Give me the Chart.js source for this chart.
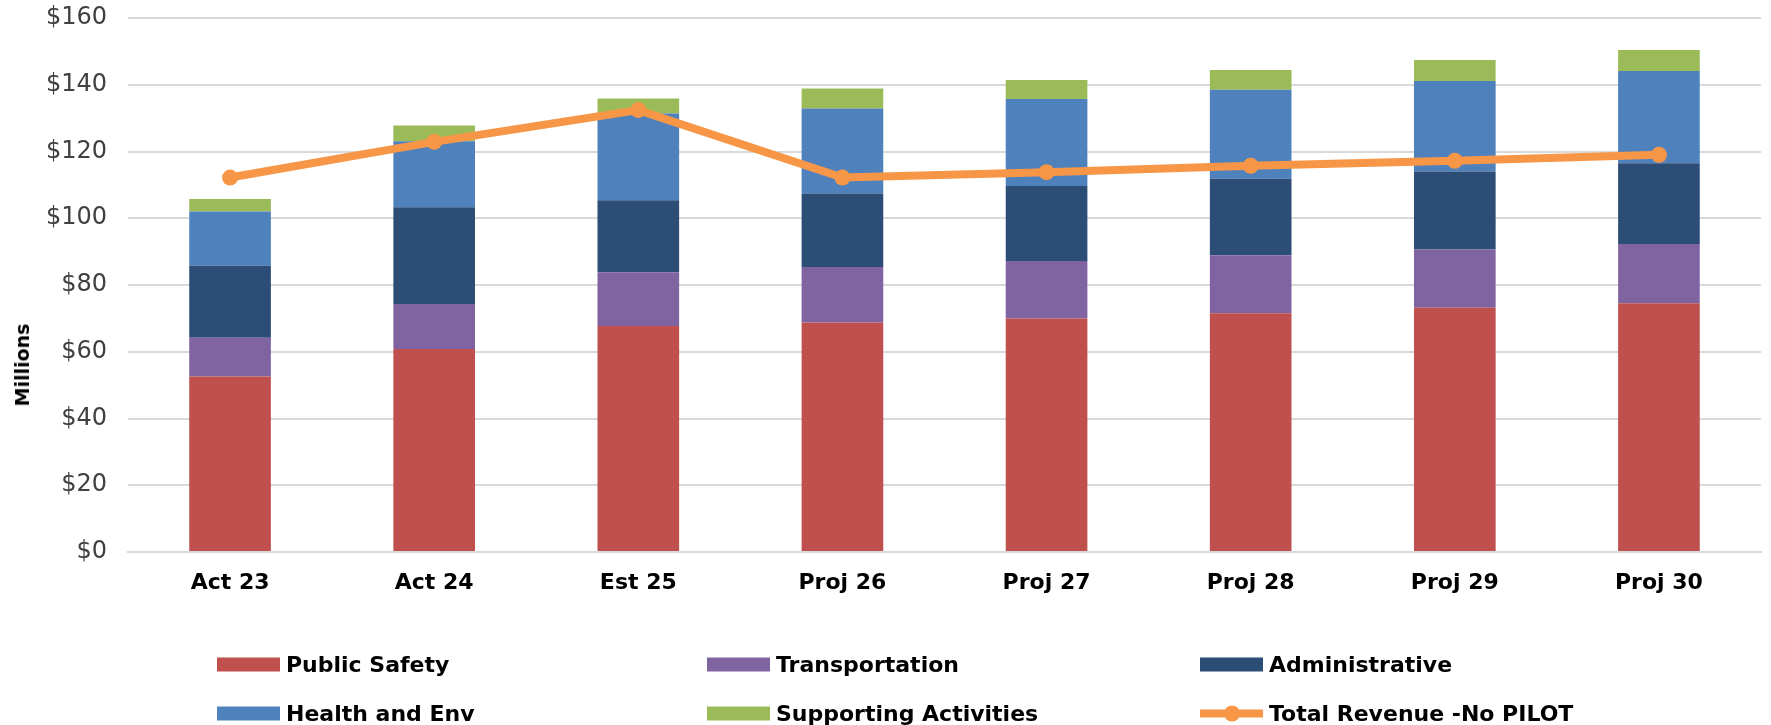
<!DOCTYPE html>
<html>
<head>
<meta charset="utf-8">
<script src="https://cdn.jsdelivr.net/npm/chart.js@4/dist/chart.umd.min.js"></script>
<style>
  html, body { margin: 0; padding: 0; background: #ffffff; }
  #wrap { position: relative; width: 1771px; height: 725px; overflow: hidden; }
  #chart { position: absolute; left: 0; top: 0; }
  #ytitle {
    position: absolute; left: 22px; top: 365px;
    transform: translate(-50%, -50%) rotate(-90deg);
    font: bold 19px "DejaVu Sans", sans-serif; color: #000; white-space: nowrap;
  }
  .leg { position: absolute; display: flex; align-items: center; font: bold 22px "DejaVu Sans", sans-serif; color: #000; white-space: nowrap; transform: translateY(-50%); }
  .sw { width: 63px; height: 14px; margin-right: 6px; position: relative; }
  .sw.line { height: 14px; }
  .sw.line .ln { position: absolute; left: 0; right: 0; top: 3px; height: 8px; }
  .sw.line .pt { position: absolute; left: 24px; top: -1px; width: 16px; height: 16px; border-radius: 50%; }
</style>
</head>
<body>
<div id="wrap">
  <canvas id="chart" width="1771" height="725"></canvas>
  <div id="ytitle">Millions</div>
</div>
<script>
const categories = ['Act 23', 'Act 24', 'Est 25', 'Proj 26', 'Proj 27', 'Proj 28', 'Proj 29', 'Proj 30'];
const publicSafety   = [52.6, 60.8, 67.7, 68.8, 70.0, 71.5, 73.2, 74.5];
const transportation = [11.6, 13.5, 16.1, 16.6, 17.2, 17.4, 17.4, 17.8];
const administrative = [21.6, 29.0, 21.6, 22.0, 22.5, 22.9, 23.4, 24.2];
const healthEnv      = [16.2, 19.8, 26.0, 25.5, 26.0, 26.7, 27.1, 27.6];
const supporting     = [3.8, 4.7, 4.5, 6.0, 5.7, 5.9, 6.3, 6.3];
const totalRevenue   = [112.2, 122.9, 132.4, 112.2, 113.8, 115.7, 117.2, 119.0];
const yMin = 0, yMax = 160, yStep = 20;

const barSet = (label, data, color) => ({
  type: 'bar', label, data, backgroundColor: color, borderWidth: 0,
  stack: 'spend', order: 1, categoryPercentage: 0.8, barPercentage: 0.5
});

const datasets = [
  barSet('Public Safety', publicSafety, '#C0504D'),
  barSet('Transportation', transportation, '#8064A2'),
  barSet('Administrative', administrative, '#2C4D75'),
  barSet('Health and Env', healthEnv, '#4F81BD'),
  barSet('Supporting Activities', supporting, '#9BBB59'),
  {
    type: 'line', label: 'Total Revenue -No PILOT', data: totalRevenue,
    borderColor: '#F79646', backgroundColor: '#F79646', borderWidth: 8,
    pointRadius: 8, pointHoverRadius: 8, pointBorderWidth: 0,
    stack: 'rev', order: 0, tension: 0
  }
];

const chart = new Chart(document.getElementById('chart'), {
  data: { labels: categories, datasets },
  options: {
    responsive: false,
    animation: false,
    layout: { padding: { left: 0, right: 10, top: 18, bottom: 123 } },
    plugins: { legend: { display: false }, tooltip: { enabled: false } },
    scales: {
      x: {
        stacked: true,
        grid: { display: false, drawTicks: false },
        border: { display: true, color: '#D9D9D9', width: 2 },
        ticks: { padding: 18, color: '#000', font: { family: 'DejaVu Sans', size: 22, weight: 'bold' } },
        afterFit: (s) => { s.height = 50; s.paddingLeft = 0; s.paddingRight = 0; }
      },
      y: {
        stacked: true,
        min: yMin, max: yMax,
        grid: { color: '#D9D9D9', lineWidth: 2, drawTicks: false },
        border: { display: false },
        ticks: {
          stepSize: yStep, padding: 21, color: '#404040',
          font: { family: 'DejaVu Sans', size: 24 },
          callback: (v) => '$' + v
        },
        afterFit: (s) => { s.width = 128; s.paddingTop = 0; s.paddingBottom = 0; }
      }
    }
  }
});

// HTML legend built from the chart's datasets
const legPos = [
  [217, 664], [707, 664], [1200, 664],
  [217, 713], [707, 713], [1200, 713]
];
const wrap = document.getElementById('wrap');
chart.data.datasets.forEach((ds, i) => {
  const el = document.createElement('div');
  el.className = 'leg';
  el.style.left = legPos[i][0] + 'px';
  el.style.top = legPos[i][1] + 'px';
  const sw = document.createElement('div');
  if (ds.type === 'line') {
    sw.className = 'sw line';
    sw.innerHTML = '<div class="ln" style="background:' + ds.borderColor + '"></div><div class="pt" style="background:' + ds.backgroundColor + '"></div>';
  } else {
    sw.className = 'sw';
    sw.style.background = ds.backgroundColor;
  }
  el.appendChild(sw);
  const t = document.createElement('span');
  t.textContent = ds.label;
  el.appendChild(t);
  wrap.appendChild(el);
});
</script>
</body>
</html>
